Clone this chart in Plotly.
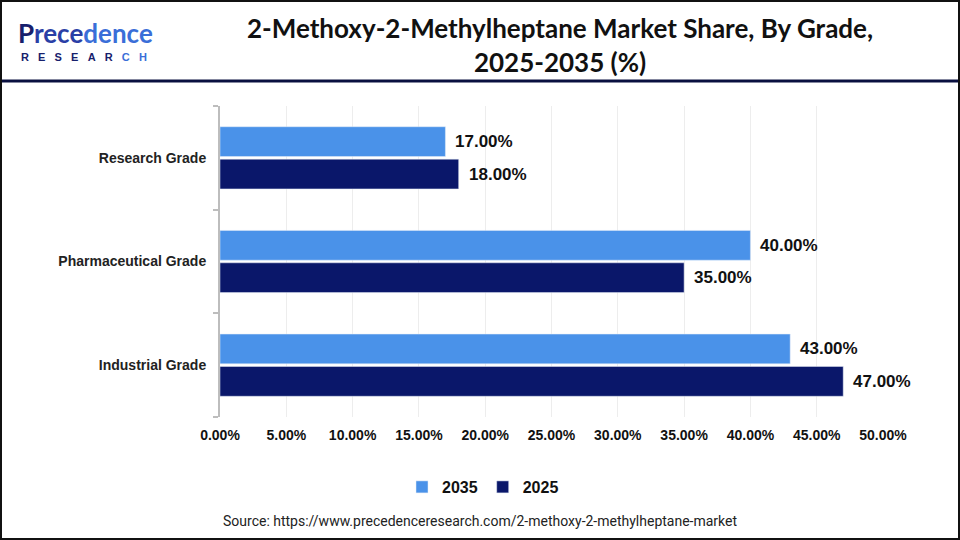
import plotly.graph_objects as go

categories = ["Industrial Grade", "Pharmaceutical Grade", "Research Grade"]
values_2025 = [47.0, 35.0, 18.0]
values_2035 = [43.0, 40.0, 17.0]
x_ticks = [0, 5, 10, 15, 20, 25, 30, 35, 40, 45, 50]
x_tick_labels = [f"{v:.2f}%" for v in x_ticks]

W, H = 960, 540
ML, MR, MT, MB = 220, 77, 106, 123
PW, PH = W - ML - MR, H - MT - MB

def px_x(px):
    return (px - ML) / PW

def px_y(py):
    return (H - MB - py) / PH

C2035 = "#4A92E9"
C2025 = "#0A176A"
BARGAP = 0.375
GROUPGAP = 0.08

fig = go.Figure()
fig.add_trace(go.Bar(
    y=categories, x=values_2025, orientation="h", name="2025",
    marker_color=C2025, legendrank=2, offsetgroup="a",
))
fig.add_trace(go.Bar(
    y=categories, x=values_2035, orientation="h", name="2035",
    marker_color=C2035, legendrank=1, offsetgroup="b",
))

# value labels, placed at each bar's end (data coordinates), shifted by slot offset
slot = (1 - BARGAP) / 2
for idx, (vals, sign) in enumerate([(values_2025, -1), (values_2035, 1)]):
    for i, v in enumerate(vals):
        fig.add_annotation(
            x=v, y=i + sign * slot / 2, xref="x", yref="y",
            text=f"{v:.2f}%", showarrow=False, xanchor="left", yanchor="middle",
            xshift=8,
            font=dict(family="Liberation Sans, Arial", size=17, color="#111111", weight="bold"),
        )

fig.update_layout(
    width=W, height=H,
    margin=dict(l=ML, r=MR, t=MT, b=MB),
    paper_bgcolor="white", plot_bgcolor="white",
    barmode="group", bargap=BARGAP, bargroupgap=GROUPGAP,
    showlegend=True,
    legend=dict(
        orientation="h", x=px_x(483), y=px_y(487), xanchor="center", yanchor="middle",
        font=dict(family="Liberation Sans, Arial", size=16, color="#111111", weight="bold"),
        itemwidth=30, traceorder="normal",
    ),
    xaxis=dict(
        range=[0, 50], tickvals=x_ticks, ticktext=x_tick_labels,
        showgrid=True, gridcolor="#EDEDED", gridwidth=1,
        zeroline=False, showline=False, ticks="", ticklabelstandoff=8,
        tickfont=dict(family="Liberation Sans Narrow, Arial Narrow, Liberation Sans", size=14,
                      color="#111111", weight="bold"),
    ),
    yaxis=dict(
        range=[-0.5, 2.5],
        showline=True, linecolor="#BDBDBD", linewidth=2,
        ticks="outside", tickson="boundaries", ticklen=5, tickcolor="#BDBDBD", tickwidth=2,
        showgrid=False, ticklabelstandoff=9,
        tickfont=dict(family="Liberation Sans, Arial", size=14, color="#222222", weight="bold"),
    ),
    font=dict(family="Liberation Sans, Arial"),
)

# Title
fig.add_annotation(
    xref="paper", yref="paper", x=px_x(560), y=px_y(45), xanchor="center", yanchor="middle",
    text="2-Methoxy-2-Methylheptane Market Share, By Grade,<br>2025-2035 (%)",
    showarrow=False, align="center",
    font=dict(family="Lato, Open Sans", size=26, color="#111111", weight="bold"),
)

# Logo
fig.add_annotation(
    xref="paper", yref="paper", x=px_x(16), y=px_y(33), xanchor="left", yanchor="middle",
    text="<span style='color:#17206C'>P</span><span style='color:#2A3FA6'>rece</span><span style='color:#3A6ED8'>dence</span>",
    showarrow=False,
    font=dict(family="Lato, Open Sans", size=26, color="#1C2C7A", weight="bold"),
)
nb = "\u00a0" * 3
fig.add_annotation(
    xref="paper", yref="paper", x=px_x(19), y=px_y(57), xanchor="left", yanchor="middle",
    text=nb.join("RESEAR") + nb + "<span style='color:#3A6ED8'>" + nb.join("CH") + "</span>",
    showarrow=False,
    font=dict(family="Liberation Sans, Arial", size=11, color="#17206C", weight="bold"),
)

# Source
fig.add_annotation(
    xref="paper", yref="paper", x=px_x(480), y=px_y(521), xanchor="center", yanchor="middle",
    text="Source: https://www.precedenceresearch.com/2-methoxy-2-methylheptane-market",
    showarrow=False,
    font=dict(family="Roboto, Liberation Sans", size=14, color="#222222"),
)

# Header separator line and outer border
fig.add_shape(type="line", xref="paper", yref="paper",
              x0=px_x(0), x1=px_x(960), y0=px_y(81), y1=px_y(81),
              line=dict(color="#0A1040", width=3))
fig.add_shape(type="rect", xref="paper", yref="paper",
              x0=px_x(1), x1=px_x(959), y0=px_y(1), y1=px_y(539),
              line=dict(color="#111111", width=2))

fig.write_html("out.html")
